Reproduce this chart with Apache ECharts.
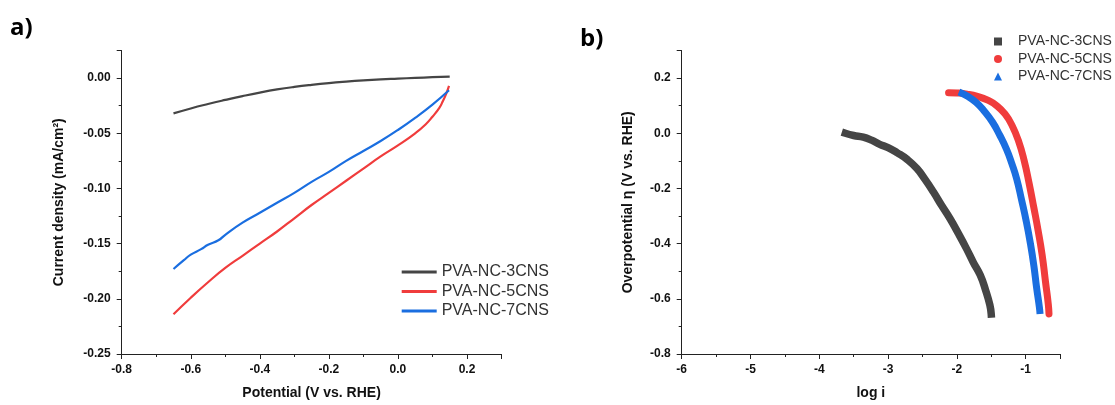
<!DOCTYPE html>
<html>
<head>
<meta charset="utf-8">
<title>PVA-NC CNS electrochemistry</title>
<script src="https://cdn.jsdelivr.net/npm/echarts@6/dist/echarts.min.js"></script>
<style>
  html, body { margin: 0; padding: 0; background: #ffffff; }
  #chart { width: 1115px; height: 405px; }
</style>
</head>
<body>
<div id="chart"></div>
<script>
// Series names
const seriesNames = ['PVA-NC-3CNS', 'PVA-NC-5CNS', 'PVA-NC-7CNS'];

// a) Polarisation curves: potential (V vs. RHE) and current density (mA/cm²)
const cv3Potential = [-0.65, -0.60, -0.55, -0.50, -0.45, -0.40, -0.35, -0.30, -0.25, -0.20, -0.15, -0.10, -0.05, 0.00, 0.05, 0.10, 0.15];
const cv3Current = [-0.0320, -0.0275, -0.0235, -0.0198, -0.0163, -0.0131, -0.0103, -0.0080, -0.0061, -0.0045, -0.0032, -0.0021, -0.0012, -0.0005, 0.0002, 0.0008, 0.0014];

const cv5Potential = [-0.65, -0.60, -0.55, -0.50, -0.45, -0.40, -0.35, -0.30, -0.25, -0.20, -0.15, -0.10, -0.05, 0.00, 0.05, 0.08, 0.10, 0.12, 0.13, 0.14, 0.148];
const cv5Current = [-0.214, -0.199, -0.185, -0.172, -0.161, -0.150, -0.139, -0.127, -0.115, -0.104, -0.093, -0.082, -0.071, -0.061, -0.050, -0.042, -0.035, -0.027, -0.021, -0.014, -0.007];

const cv7Potential = [-0.65, -0.62, -0.60, -0.57, -0.55, -0.52, -0.50, -0.45, -0.40, -0.35, -0.30, -0.25, -0.20, -0.15, -0.10, -0.05, 0.00, 0.05, 0.10, 0.148];
const cv7Current = [-0.173, -0.165, -0.160, -0.155, -0.151, -0.147, -0.142, -0.131, -0.122, -0.113, -0.104, -0.094, -0.085, -0.075, -0.066, -0.057, -0.047, -0.036, -0.024, -0.011];

// b) Tafel plots: log i and overpotential η (V vs. RHE)
const tafel3LogI = [-3.62, -3.50, -3.36, -3.24, -3.12, -3.00, -2.87, -2.72, -2.58, -2.46, -2.34, -2.22, -2.10, -1.98, -1.86, -1.76, -1.66, -1.58, -1.52, -1.50];
const tafel3Eta = [0.000, -0.008, -0.014, -0.025, -0.040, -0.052, -0.070, -0.095, -0.128, -0.168, -0.213, -0.262, -0.309, -0.362, -0.418, -0.468, -0.514, -0.570, -0.622, -0.655];

const tafel5LogI = [-2.12, -2.00, -1.85, -1.70, -1.55, -1.42, -1.30, -1.20, -1.10, -1.02, -0.95, -0.88, -0.82, -0.76, -0.71, -0.67, -0.66];
const tafel5Eta = [0.147, 0.146, 0.142, 0.134, 0.120, 0.100, 0.070, 0.030, -0.030, -0.100, -0.180, -0.270, -0.350, -0.440, -0.540, -0.620, -0.655];

const tafel7LogI = [-1.97, -1.85, -1.72, -1.60, -1.48, -1.38, -1.28, -1.20, -1.13, -1.06, -0.99, -0.93, -0.88, -0.84, -0.80, -0.79];
const tafel7Eta = [0.150, 0.135, 0.112, 0.080, 0.040, -0.005, -0.057, -0.110, -0.165, -0.240, -0.320, -0.400, -0.480, -0.560, -0.630, -0.655];

const colors = ['#454545', '#f03c3c', '#1a6ee0'];

const zip = (xs, ys) => xs.map((x, i) => [x, ys[i]]);

const font = '"Liberation Sans", Arial, sans-serif';
const lineIcon = 'path://M0 0H35V3H0Z';

function axisCommon() {
  return {
    axisLine: { show: true, onZero: false, lineStyle: { color: '#222', width: 1 } },
    axisTick: { show: true, inside: false, length: 5, lineStyle: { color: '#222', width: 1 } },
    minorTick: { show: true, splitNumber: 2, length: 3, lineStyle: { color: '#222', width: 1 } },
    splitLine: { show: false },
    minorSplitLine: { show: false },
    nameLocation: 'middle',
    nameTextStyle: { fontFamily: font, fontWeight: 'bold', fontSize: 14, color: '#111' },
  };
}

const chart = echarts.init(document.getElementById('chart'), null, { renderer: 'canvas' });

chart.setOption({
  animation: false,
  backgroundColor: '#ffffff',
  graphic: [
    { type: 'text', left: 10, top: 16, style: { text: 'a)', font: 'bold 24px "Open Sans", "Liberation Sans", sans-serif', fill: '#000' } },
    { type: 'text', left: 580, top: 27, style: { text: 'b)', font: 'bold 24px "Open Sans", "Liberation Sans", sans-serif', fill: '#000' } }
  ],
  grid: [
    { left: 121.7, width: 379.8, top: 50.5, bottom: 48.8, containLabel: false },
    { left: 681.7, width: 378.3, top: 50.5, bottom: 48.8, containLabel: false }
  ],
  legend: [
    {
      data: seriesNames.map(n => ({ name: n, icon: lineIcon })),
      orient: 'vertical',
      left: 401.7,
      top: 264,
      padding: 0,
      itemWidth: 35,
      itemHeight: 3,
      itemGap: 3.5,
      selectedMode: false,
      textStyle: { fontFamily: font, fontSize: 16, color: '#333', lineHeight: 16 }
    },
    {
      data: [
        { name: seriesNames[0] + ' ', icon: 'rect' },
        { name: seriesNames[1] + ' ', icon: 'circle' },
        { name: seriesNames[2] + ' ', icon: 'triangle' }
      ],
      orient: 'vertical',
      left: 994,
      top: 34.5,
      padding: 0,
      itemWidth: 8,
      itemHeight: 8,
      itemGap: 3.5,
      selectedMode: false,
      textStyle: { fontFamily: font, fontSize: 14, color: '#333', lineHeight: 14, padding: [0, 0, 0, 11] }
    }
  ],
  xAxis: [
    Object.assign(axisCommon(), {
      gridIndex: 0, type: 'value', min: -0.8, max: 0.3, interval: 0.2,
      name: 'Potential (V vs. RHE)', nameGap: 32,
      axisLabel: { showMaxLabel: false, margin: 10, fontFamily: font, fontWeight: 'bold', fontSize: 12, color: '#111',
        formatter: v => v.toFixed(1) }
    }),
    Object.assign(axisCommon(), {
      gridIndex: 1, type: 'value', min: -6, max: -0.5, interval: 1,
      name: 'log i', nameGap: 32,
      axisLabel: { showMaxLabel: false, margin: 10, fontFamily: font, fontWeight: 'bold', fontSize: 12, color: '#111',
        formatter: v => v.toFixed(0) }
    })
  ],
  yAxis: [
    Object.assign(axisCommon(), {
      gridIndex: 0, type: 'value', min: -0.25, max: 0.025, interval: 0.05,
      name: 'Current density (mA/cm²)', nameGap: 56,
      axisLabel: { showMaxLabel: false, margin: 11, fontFamily: font, fontWeight: 'bold', fontSize: 12, color: '#111',
        formatter: v => v.toFixed(2) }
    }),
    Object.assign(axisCommon(), {
      gridIndex: 1, type: 'value', min: -0.8, max: 0.3, interval: 0.2,
      name: 'Overpotential η (V vs. RHE)', nameGap: 47,
      axisLabel: { showMaxLabel: false, margin: 11, fontFamily: font, fontWeight: 'bold', fontSize: 12, color: '#111',
        formatter: v => v.toFixed(1) }
    })
  ],
  series: [
    { name: seriesNames[0], type: 'line', xAxisIndex: 0, yAxisIndex: 0, showSymbol: false, symbol: 'none', smooth: true,
      data: zip(cv3Potential, cv3Current), itemStyle: { color: colors[0] }, lineStyle: { color: colors[0], width: 2.2 } },
    { name: seriesNames[1], type: 'line', xAxisIndex: 0, yAxisIndex: 0, showSymbol: false, symbol: 'none', smooth: true,
      data: zip(cv5Potential, cv5Current), itemStyle: { color: colors[1] }, lineStyle: { color: colors[1], width: 2.2 } },
    { name: seriesNames[2], type: 'line', xAxisIndex: 0, yAxisIndex: 0, showSymbol: false, symbol: 'none', smooth: true,
      data: zip(cv7Potential, cv7Current), itemStyle: { color: colors[2] }, lineStyle: { color: colors[2], width: 2.2 } },

    { name: seriesNames[0] + ' ', type: 'line', xAxisIndex: 1, yAxisIndex: 1, showSymbol: false, symbol: 'none', smooth: true,
      data: zip(tafel3LogI, tafel3Eta), itemStyle: { color: colors[0] }, lineStyle: { color: colors[0], width: 7.5, cap: 'square', join: 'round' } },
    { name: seriesNames[1] + ' ', type: 'line', xAxisIndex: 1, yAxisIndex: 1, showSymbol: false, symbol: 'none', smooth: true,
      data: zip(tafel5LogI, tafel5Eta), itemStyle: { color: colors[1] }, lineStyle: { color: colors[1], width: 7, cap: 'round', join: 'round' } },
    { name: seriesNames[2] + ' ', type: 'line', xAxisIndex: 1, yAxisIndex: 1, showSymbol: false, symbol: 'none', smooth: true,
      data: zip(tafel7LogI, tafel7Eta), itemStyle: { color: colors[2] }, lineStyle: { color: colors[2], width: 7, cap: 'butt', join: 'round' } }
  ]
});
</script>
</body>
</html>
